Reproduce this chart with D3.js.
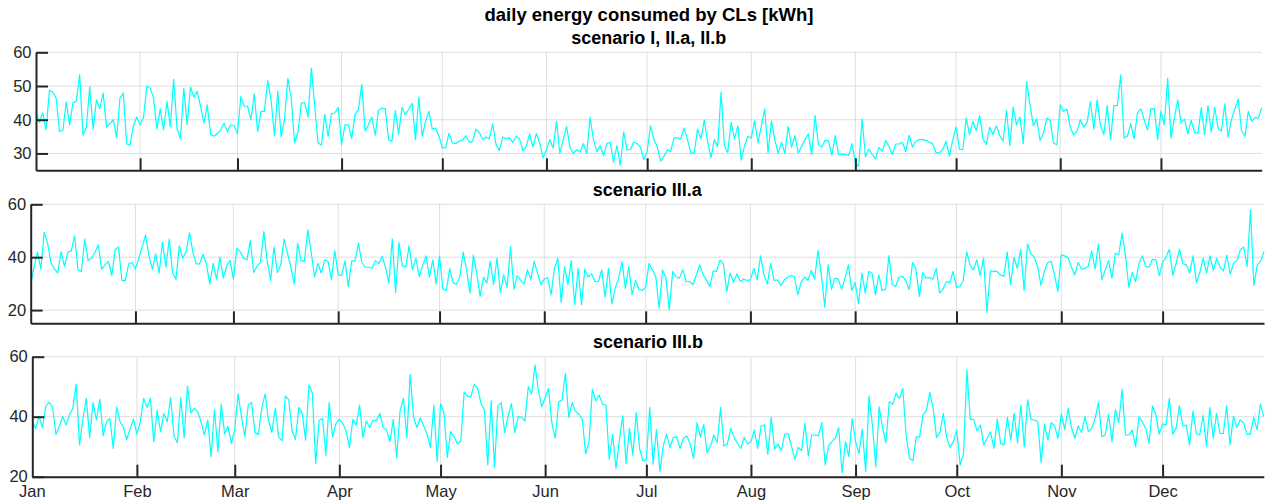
<!DOCTYPE html>
<html>
<head>
<meta charset="utf-8">
<script src="https://cdn.jsdelivr.net/npm/d3@7"></script>
<style>
  body { margin: 0; background: #fff; }
  #chart text { font-family: "Liberation Sans", Arial, Helvetica, sans-serif; }
</style>
</head>
<body>
<div id="chart"></div>
<script>
// daily values, 2020 (leap year), Jan 1 .. Dec 31
var firstDay = "2020-01-01",
    lastDay = "2020-12-31";

var mainTitle = "daily energy consumed by CLs [kWh]";
var panelTitles = ["scenario I, II.a, II.b", "scenario III.a", "scenario III.b"];

var ticksI = [30, 40, 50, 60],
    ticksIIIa = [20, 40, 60],
    ticksIIIb = [20, 40, 60];

var scenarioI = [
  42.2, 39.2, 42, 37, 48.7, 48.2, 46.4, 36.5, 36.8, 45.3,
  38.5, 45, 45.5, 53.3, 35.4, 37.8, 49.8, 37.2, 45.9, 43.3,
  47.9, 37.8, 38.8, 40, 34.7, 46.4, 47.9, 32.8, 32.5, 38.2,
  40.8, 38.5, 40.6, 50, 49.3, 46.4, 37.3, 43.2, 37, 45.4,
  38, 52, 37.4, 34.4, 49.4, 38.5, 49.7, 46.7, 48.4, 44,
  39, 44.4, 35.6, 35.1, 35.9, 37, 39, 36.5, 38.5, 38.2,
  35.9, 46.9, 44, 44, 40, 47.7, 36.5, 42.5, 42.5, 51.6,
  45.9, 35.3, 48.4, 34.9, 40, 52.3, 46.4, 33.1, 36.3, 44.9,
  45.1, 40.8, 55.3, 44, 33.1, 32.5, 41.5, 35.1, 41.8,
  42, 43.7, 32.6, 38.5, 38.5, 34.4, 41.5, 43, 50.5, 36.7,
  38.5, 40.8, 35.4, 42.8, 43.4, 43.3, 34.1, 33.6, 42.7, 35.8,
  43.7, 41.5, 43.1, 44.9, 34.1, 46.7, 35.1, 39.5, 42.5, 37.2,
  37.5, 35.1, 31.6, 31.8, 36, 33.1, 32.9, 33.6, 33.9, 35.3,
  33.3, 33.6, 37.2, 36.3, 34.1, 34.9, 34.3, 38.8, 32.6, 30.9,
  34.9, 34.4, 34.6, 33.3, 35.1, 34.3, 30.8, 32.1, 35.8, 31.9,
  35.9, 33.1, 28.7, 31.1, 34.1, 31.6, 39.5, 30, 34.1, 38,
  31.9, 30, 31.1, 30.4, 32.9, 30, 40.7, 34.1, 30.6, 32.3,
  29.4, 32.9, 33.3, 27.4, 32.3, 26.5, 36.4, 31.1, 31.1, 33.4,
  32.9, 31.9, 28.2, 30.6, 38.2,
  34.1, 32.1, 27.7, 29.2, 31.1, 30.6, 34.6, 34.6, 34.3, 37.5,
  34.1, 30.1, 30.1, 37.2, 34.3, 40, 33.6, 28.7, 34.1, 32.1,
  48.2, 32.3, 30.3, 39.2, 34.3, 38.2, 28, 32.3, 35.1, 34.6,
  39.7, 33.1, 38.2, 43.2, 30.3, 39.6, 34.1, 30, 33.3, 30,
  38, 31.9, 35.3, 30.1, 32.1, 34.1, 35.8, 29.7, 41.3, 32.6,
  31.9, 33.9, 33.8, 29.4, 35.3, 29.7, 29.7, 29.7, 29.4, 32.9,
  27.2, 26.2, 40.2, 29, 31.3, 29.7, 28.4, 31.8, 30.6, 33.8,
  32.1, 29.7, 32.8, 32.8, 33.3, 30.6, 35.4, 31.9, 33.6, 34.1,
  34.1, 33.9, 33.3, 32.9, 30.3, 30.1, 31.1, 33.6, 29.2, 34.1,
  37.8, 31.3, 31.1, 40.5, 35.6,
  39.5, 36.8, 41.2, 34.3, 32.6, 37.8, 35.6, 38.2, 35.3, 33.6,
  42.8, 32.3, 43.7, 38.5, 40.8, 32.9, 51.3, 44.4, 38.2, 40.2,
  33.9, 35.9, 40.5, 39.8, 33.1, 32.6, 44.4, 42.5, 43.2, 37.8,
  35.4, 36.6, 40, 37.8, 39.2, 45.4, 37.2, 45.9, 38.2, 35.6,
  44.2, 34.1, 44.2, 44.2, 53.3, 34.6, 35.1, 38.8, 34.3, 42,
  43.2, 40, 37, 43.2, 43.3, 34.1, 42.5, 38.5, 52.3, 34.6,
  40.5, 45.9, 39, 40.2, 35.9, 39.8, 36.3, 35.9, 43.6, 35.6,
  44.1, 36.3, 43.7, 37.5, 36.6, 44.7, 34.9, 40, 43.2, 46.1,
  36.8, 35.1, 42.5, 39.5, 40.7, 40.5, 43.6
];

var scenarioIIIa = [
  29.6, 36.2, 41.9, 35.6, 49.4, 45.3, 38, 35.6, 34, 42.1,
  36.5, 41.9, 42.4, 48.1, 35.2, 34.6, 46.8, 38.7, 39.6, 41.8,
  44.7, 35.5, 37.1, 38.4, 33, 42.8, 43.8, 31.1, 31.1, 37.5,
  38, 35.5, 39.6, 44, 48.4, 40.5, 35.5, 41.3, 34, 45.7,
  36.2, 46.8, 34, 31.7, 44.3, 39.6, 42.1, 49.3, 41.8, 37.5,
  37.5, 41.1, 37.5, 29.8, 37.7, 31.7, 40, 32.1, 36.7, 38.7,
  31.7, 43.4, 42.1, 39.6, 39, 46.3, 34.2, 36.7, 38, 49.7,
  38.4, 31.2, 43.8, 34.2, 37.1, 46.8, 41.5, 36.2, 29.8, 45.3,
  38.7, 38.4, 50.3, 42.1, 32.5, 37.7, 34, 39, 38.4,
  31.7, 42.4, 33.3, 33, 38.6, 28.9, 38.6, 38.6, 45.3, 38,
  36.2, 36.2, 35.7, 38.7, 37.5, 40.3, 36.2, 30.2, 46.9, 26.7,
  45.5, 36.7, 36.2, 44.3, 35.2, 39.6, 32.7, 36.7, 40.5, 32.5,
  39, 29.8, 40.5, 27.9, 27.4, 35.7, 30.4, 29.7, 32.5, 41.9,
  35.2, 26.4, 40.8, 34, 25.2, 32.5, 30.2, 38.4, 29.6, 39.6,
  26.7, 33.3, 28.6, 44, 27.9, 33, 31.2, 29.8, 35.2, 31.7,
  38.4, 34, 29.6, 31.7, 32.2, 25.7, 35.8, 39.6, 22.9, 36.5,
  29.6, 38.7, 22, 35.8, 22, 35.5, 32.5, 33.7, 30.8, 30.8,
  35.2, 24.9, 35.8, 22.3, 28.3, 32.1, 38.2, 28.2, 36.5, 25.9,
  31.2, 27.9, 27.4, 28.7, 37.7,
  35.2, 32.5, 20.8, 35.2, 32.1, 20.1, 34.6, 32.5, 32.1, 35.2,
  30.8, 30.8, 29.6, 33.3, 37.1, 33.3, 31.4, 28.9, 34.8, 34.6,
  39, 37.5, 27, 34, 30.4, 33.7, 30.8, 31.7, 31.2, 31.4,
  35.8, 31.4, 40.5, 33.3, 29.8, 37.7, 31.2, 31.4, 29.2, 31.4,
  32.5, 33, 32.7, 25.8, 30.4, 32.5, 31.2, 35, 31.7, 42.5,
  33.3, 21.1, 37.1, 27.9, 32.1, 31.7, 27.9, 32.1, 37.1, 27.4,
  30.4, 22.4, 34, 26.4, 34.6, 34, 25.8, 33.3, 27.4, 27.9,
  40.6, 29.6, 28.9, 32.5, 32.7, 31.2, 27.7, 38, 35.5, 25.2,
  34.2, 32.1, 32.3, 31.7, 35.8, 26.4, 27.9, 30.8, 30.4, 34.6,
  28.6, 28.9, 31.2, 42.1, 37.1,
  35.2, 39, 33, 39.6, 19.1, 34.8, 34.6, 34.6, 33.3, 32.7,
  41.9, 29.6, 39.9, 35.8, 43, 27.4, 45, 41.3, 40, 36.5,
  29.3, 34.6, 38, 38.4, 33.3, 27, 40.9, 40.5, 39.9, 36.2,
  33.3, 38, 35.5, 35.8, 36.7, 42.4, 35.6, 45, 31.4, 35.2,
  38.7, 32.1, 41.5, 40.9, 49.1, 40.5, 28.7, 34.2, 30.8, 37.5,
  40.5, 36.5, 36.2, 39.2, 39, 33, 38, 40, 43, 33.1,
  37.7, 43, 37.5, 37.1, 34, 40.5, 30.4, 34.2, 39.6, 34,
  40.5, 35, 39.6, 36.2, 34.8, 40.8, 33.6, 37.7, 38.7, 42.8,
  43.8, 36.5, 57.9, 29.3, 37.1, 38.4, 42.1
];

var scenarioIIIb = [
  38.3, 36.1, 40.2, 36.4, 43.6, 44.8, 43.3, 34.1, 36.7, 40.2,
  37.2, 40.6, 42.8, 50.8, 30.6, 39.4, 46.1, 33.1, 44.7, 38.9,
  45.8, 33.7, 38.3, 39.4, 29.4, 43.3, 38.3, 36.4, 32.4, 36.1,
  39.2, 34.2, 38.3, 46.1, 43.1, 46.1, 31.7, 42.2, 35, 41.1,
  38.3, 46.4, 33.6, 31.3, 46.4, 33, 50.2, 41.3, 42.8, 41.7,
  38.3, 33.9, 38.9, 26.7, 42.4, 28.3, 44.2, 34.2, 36.7, 31.1,
  35.6, 47.6, 40, 33.3, 43.9, 44.7, 34.7, 34.1, 42.8, 47.6,
  38.9, 34.8, 42.8, 33.3, 32, 46.9, 45.6, 35.3, 32.4, 43.1,
  41.1, 32.2, 50.6, 47.8, 24.4, 38.7, 39.4, 27.2, 44.7,
  33.3, 37.8, 39.1, 37.8, 35.3, 29.8, 39.1, 37.2, 43.9, 33.1,
  38.6, 36.4, 38.9, 38.7, 41.1, 36.4, 35.6, 31.7, 39.1, 26.3,
  42, 46.1, 33.1, 54.1, 39.8, 36.4, 39.6, 36.9, 34.2, 29.8,
  43.9, 25, 44.4, 41.3, 26.4, 35, 33.3, 30.9, 32, 48.3,
  46.7, 46.7, 50.8, 49.4, 44.4, 42.2, 23.9, 45.2, 23.1, 43.6,
  44.7, 34.7, 40, 44.4, 34.7, 40, 39.8, 38.6, 50, 47.6,
  57.2, 48.9, 43.3, 46.4, 49.4, 37.8, 32.8, 45, 45.6, 54.4,
  39.8, 44.7, 41.7, 40.9, 39.1, 27.6, 31.7, 49.1, 45.3, 47.2,
  44.2, 43.9, 25.8, 34.1, 22.8, 32.2, 40.3, 24.4, 36.1, 27.2,
  41.4, 29.4, 25.3, 25.6, 43.1,
  24.2, 35.8, 21.7, 30.2, 34.1, 29.8, 33.1, 33.3, 29.4, 32.8,
  33.6, 30.9, 26.1, 38, 33.3, 37.4, 28, 30.2, 33.9, 31.3,
  43.1, 30.2, 30.9, 36.1, 33.1, 31.1, 29.4, 33.1, 30.9, 31.7,
  35.6, 29.4, 36.9, 37.2, 27.4, 39.8, 29.2, 30.9, 28.7, 34.2,
  34.4, 30.2, 25.8, 29.8, 28.7, 37.8, 26.9, 33.9, 33.9, 33.6,
  38, 23.9, 30.2, 31.7, 32.8, 36.4, 21.3, 31.7, 26.7, 39.4,
  31.7, 27.8, 35.8, 21.7, 46.9, 37.2, 23.3, 43.3, 36.4, 31.3,
  45, 44.1, 47.8, 46.1, 49.4, 33.6, 26.1, 25.3, 33.3, 33.3,
  40.6, 42, 48.1, 42.8, 33.1, 34.7, 41.1, 33.1, 29.8, 31.7,
  35.6, 23.9, 27.8, 55.6, 39.1,
  39.1, 35.3, 37.2, 30.6, 32.8, 35, 29.4, 39.1, 31.1, 30.6,
  39.8, 32.2, 41.1, 31.3, 43.9, 30, 45.6, 39.1, 38.9, 38.3,
  24.7, 37.6, 32.2, 38, 36.9, 32.8, 40.9, 35.8, 42.8, 36.4,
  32.8, 36.9, 34.7, 40, 35, 36.1, 39.4, 44.7, 33.3, 33.9,
  40.8, 31.7, 42.4, 38, 49.1, 33.9, 33.9, 35.6, 30, 40,
  38.3, 36.1, 31.1, 43.6, 40.6, 34.2, 37.6, 37.2, 46.1, 34.2,
  36.1, 43.6, 36.9, 37.2, 30.6, 41.9, 34.4, 33.9, 40.4, 30.2,
  43.1, 32.8, 41.1, 34.4, 34.4, 43.6, 30.6, 40.2, 36.4, 38.9,
  38, 34.2, 34.2, 39.8, 35.6, 44.2, 40
];

var W = 1275, H = 501,
    ink = "#262626",
    gridColor = "#dfdfdf",
    lineColor = "#00ffff";

var panels = [
  { values: scenarioI, title: panelTitles[0], ticks: ticksI, domain: [25, 60],
    left: 36, right: 1261.7, top: 52.3, bottom: 170.3, labels: false },
  { values: scenarioIIIa, title: panelTitles[1], ticks: ticksIIIa, domain: [15, 60],
    left: 30.7, right: 1264, top: 204.3, bottom: 323.3, labels: false },
  { values: scenarioIIIb, title: panelTitles[2], ticks: ticksIIIb, domain: [20, 60],
    left: 32.3, right: 1263.8, top: 356.7, bottom: 476.7, labels: true }
];

function chart() {
    var parse = d3.timeParse("%Y-%m-%d"),
        t0 = parse(firstDay),
        t1 = parse(lastDay);

    var svg = d3.select("#chart").append("svg")
        .attr("width", W)
        .attr("height", H);

    svg.append("rect")
        .attr("width", W)
        .attr("height", H)
        .attr("fill", "#fff");

    svg.append("text")
        .attr("x", 649)
        .attr("y", 21)
        .attr("text-anchor", "middle")
        .attr("font-size", "18.5px")
        .attr("font-weight", "bold")
        .attr("fill", "#000")
        .text(mainTitle);

    panels.forEach(function (p) {
        var x = d3.scaleTime()
            .domain([t0, t1])
            .range([p.left, p.right]);

        var y = d3.scaleLinear()
            .domain(p.domain)
            .range([p.bottom, p.top]);

        var pts = p.values.map(function (v, i) {
            return { date: d3.timeDay.offset(t0, i), v: v };
        });

        var months = x.ticks(d3.timeMonth).filter(function (d) { return +d !== +t0; });

        var g = svg.append("g");

        // grid
        g.selectAll(".hgrid")
            .data(p.ticks)
            .enter()
            .append("line")
            .attr("x1", p.left)
            .attr("x2", p.right)
            .attr("y1", function (d) { return y(d); })
            .attr("y2", function (d) { return y(d); })
            .attr("stroke", gridColor)
            .attr("stroke-width", 1);

        g.selectAll(".vgrid")
            .data(months)
            .enter()
            .append("line")
            .attr("x1", function (d) { return x(d); })
            .attr("x2", function (d) { return x(d); })
            .attr("y1", p.top)
            .attr("y2", p.bottom)
            .attr("stroke", gridColor)
            .attr("stroke-width", 1);

        // data
        g.append("path")
            .datum(pts)
            .attr("fill", "none")
            .attr("stroke", lineColor)
            .attr("stroke-width", 1.2)
            .attr("stroke-linejoin", "round")
            .attr("d", d3.line()
                .x(function (d) { return x(d.date); })
                .y(function (d) { return y(d.v); }));

        // axes
        var xAxis = d3.axisBottom(x)
            .tickValues(months)
            .tickSizeInner(-12)
            .tickSizeOuter(0)
            .tickPadding(9)
            .tickFormat(p.labels ? d3.timeFormat("%b") : function () { return ""; });

        var gx = g.append("g")
            .attr("transform", "translate(0," + p.bottom + ")")
            .call(xAxis);

        if (p.labels) {
            gx.append("text")
                .attr("x", p.left)
                .attr("y", 9)
                .attr("dy", "0.71em")
                .attr("text-anchor", "middle")
                .text(d3.timeFormat("%b")(t0));
        }

        var gy = g.append("g")
            .attr("transform", "translate(" + p.left + ",0)")
            .call(d3.axisLeft(y)
                .tickValues(p.ticks)
                .tickSizeInner(-12)
                .tickSizeOuter(0)
                .tickPadding(4.5));

        [gx, gy].forEach(function (a) {
            a.select(".domain").attr("stroke", ink).attr("stroke-width", 2);
            a.selectAll(".tick line").attr("stroke", ink).attr("stroke-width", 2);
            a.selectAll("text")
                .attr("fill", ink)
                .attr("font-size", "16.5px")
                .attr("font-family", "'Liberation Sans', Arial, sans-serif");
        });

        g.append("text")
            .attr("x", (p.left + p.right) / 2)
            .attr("y", p.top - 8.5)
            .attr("text-anchor", "middle")
            .attr("font-size", "18px")
            .attr("font-weight", "bold")
            .attr("fill", "#000")
            .text(p.title);
    });
}

chart();
</script>
</body>
</html>
